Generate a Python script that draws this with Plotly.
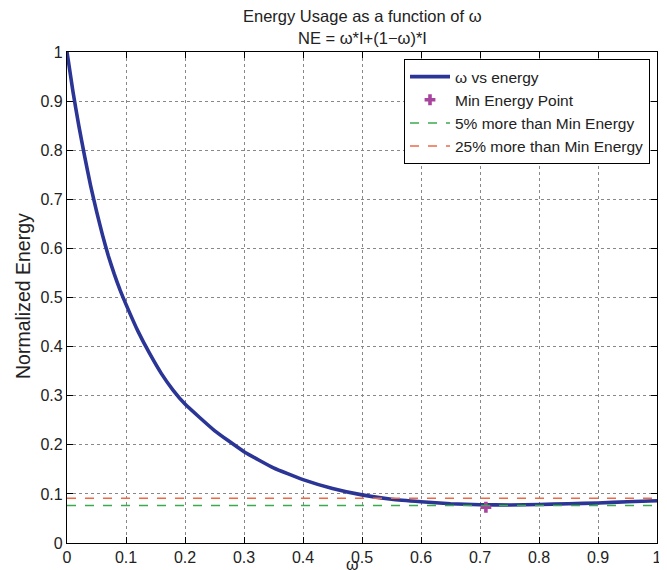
import plotly.graph_objects as go

# Curve values
omega = [0, 0.01, 0.02, 0.03, 0.04, 0.05, 0.06, 0.07, 0.08, 0.09, 0.1,
         0.12, 0.14, 0.16, 0.18, 0.2, 0.25, 0.3, 0.35, 0.4, 0.45, 0.5,
         0.55, 0.6, 0.65, 0.7, 0.75, 0.8, 0.85, 0.9, 0.95, 1.0]
energy = [1.0, 0.92, 0.85, 0.787, 0.728, 0.676, 0.628, 0.585, 0.548, 0.515, 0.486,
          0.432, 0.386, 0.345, 0.311, 0.283, 0.229, 0.186, 0.153, 0.129, 0.111, 0.098,
          0.089, 0.084, 0.080, 0.078, 0.0775, 0.0785, 0.080, 0.0815, 0.084, 0.086]

min_x = 0.71
min_energy = 0.0728
line_x = [0, 1]
factors = [1.05, 1.25]

ticks = [0, 0.1, 0.2, 0.3, 0.4, 0.5, 0.6, 0.7, 0.8, 0.9, 1]
tick_text = ["0", "0.1", "0.2", "0.3", "0.4", "0.5", "0.6", "0.7", "0.8", "0.9", "1"]

FONT = "Liberation Sans, Arial, Helvetica, sans-serif"

# page has an 8px body margin, so the figure is drawn 8px in from the top-left
W, H = 659, 562
ML, MR, MT, MB = 59, 10, 44, 27
PW, PH = W - ML - MR, H - MT - MB

fig = go.Figure()
fig.add_trace(go.Scatter(x=omega, y=energy, mode="lines", name="ω vs energy",
                         line=dict(color="#2A3596", width=3.6, shape="spline", smoothing=0.4)))
fig.add_trace(go.Scatter(x=[min_x], y=[min_energy], mode="markers", name="Min Energy Point",
                         marker=dict(symbol="cross", size=9, color="#A8439E")))
fig.add_trace(go.Scatter(x=line_x, y=[min_energy * factors[0]] * 2, mode="lines",
                         name="5% more than Min Energy",
                         line=dict(color="#3BAA4E", width=1.5, dash="dash")))
fig.add_trace(go.Scatter(x=line_x, y=[min_energy * factors[1]] * 2, mode="lines",
                         name="25% more than Min Energy",
                         line=dict(color="#EE6A45", width=1.5, dash="dash")))

axis_common = dict(
    range=[0, 1], tickmode="array", tickvals=ticks, ticktext=tick_text,
    ticks="inside", ticklen=6, tickcolor="black", mirror="ticks",
    showline=True, linecolor="black", linewidth=1.3,
    showgrid=True, gridcolor="#888888", griddash="dot", gridwidth=1,
    zeroline=False, tickfont=dict(family=FONT, size=16, color="#222"),
)

fig.update_layout(
    width=W, height=H,
    margin=dict(l=ML, r=MR, t=MT, b=MB, autoexpand=False),
    paper_bgcolor="white", plot_bgcolor="white",
    font=dict(family=FONT, size=14, color="#222"),
    xaxis=axis_common,
    yaxis=axis_common,
    showlegend=True,
    legend=dict(x=(650 - 67) / PW, y=(543 - 59) / PH, xanchor="right", yanchor="top",
                bgcolor="white", bordercolor="black", borderwidth=1,
                font=dict(family=FONT, size=15.5, color="#222"),
                itemwidth=40),
    annotations=[
        dict(text="Energy Usage as a function of ω", x=0.5, y=1 + (MT - 8) / PH,
             xref="paper", yref="paper", yanchor="middle",
             showarrow=False, font=dict(size=16.5)),
        dict(text="NE = ω*I+(1−ω)*I", x=0.5, y=1 + (MT - 30) / PH,
             xref="paper", yref="paper", yanchor="middle",
             showarrow=False, font=dict(size=16.5)),
        dict(text="Normalized Energy", x=(15 - ML) / PW, y=0.503, xref="paper", yref="paper",
             textangle=-90, showarrow=False, font=dict(size=19.5),
             xanchor="center", yanchor="middle"),
        dict(text="ω", x=0.484, y=-(556 - (H - MB)) / PH, xref="paper", yref="paper",
             showarrow=False, font=dict(size=16), yanchor="middle"),
    ],
)

fig.write_html("out.html")
